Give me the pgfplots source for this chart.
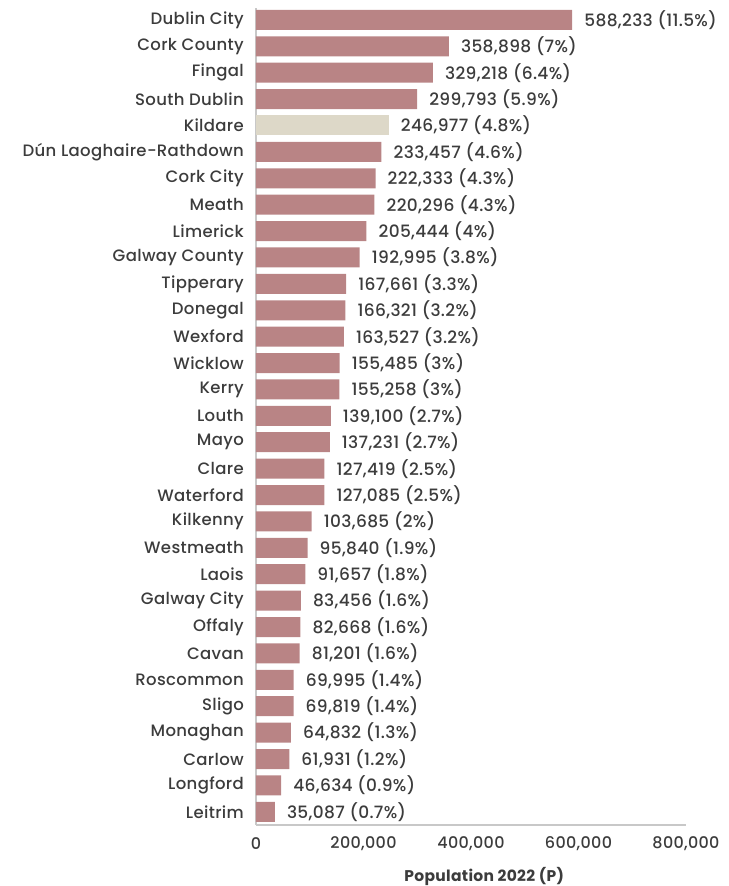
\documentclass[border=0pt]{standalone}
\usepackage{fontspec}
\setmainfont{Poppins}[UprightFont=*-Medium, BoldFont=*-Bold, LetterSpace=2]
\usepackage{pgfplots}
\usepackage{pgfplotstable}
\pgfplotsset{compat=1.18}
\definecolor{barred}{HTML}{B98485}
\definecolor{barbeige}{HTML}{DDD8C8}
\definecolor{txt}{HTML}{3C3C3C}
\definecolor{axgray}{HTML}{C8C8C8}

\pgfplotstableread[col sep=semicolon,row sep=\\]{
idx;val;lab\\
0;588233;588,233 (11.5\%)\\
1;358898;358,898 (7\%)\\
2;329218;329,218 (6.4\%)\\
3;299793;299,793 (5.9\%)\\
5;233457;233,457 (4.6\%)\\
6;222333;222,333 (4.3\%)\\
7;220296;220,296 (4.3\%)\\
8;205444;205,444 (4\%)\\
9;192995;192,995 (3.8\%)\\
10;167661;167,661 (3.3\%)\\
11;166321;166,321 (3.2\%)\\
12;163527;163,527 (3.2\%)\\
13;155485;155,485 (3\%)\\
14;155258;155,258 (3\%)\\
15;139100;139,100 (2.7\%)\\
16;137231;137,231 (2.7\%)\\
17;127419;127,419 (2.5\%)\\
18;127085;127,085 (2.5\%)\\
19;103685;103,685 (2\%)\\
20;95840;95,840 (1.9\%)\\
21;91657;91,657 (1.8\%)\\
22;83456;83,456 (1.6\%)\\
23;82668;82,668 (1.6\%)\\
24;81201;81,201 (1.6\%)\\
25;69995;69,995 (1.4\%)\\
26;69819;69,819 (1.4\%)\\
27;64832;64,832 (1.3\%)\\
28;61931;61,931 (1.2\%)\\
29;46634;46,634 (0.9\%)\\
30;35087;35,087 (0.7\%)\\
}\maindata

\pgfplotstableread[col sep=semicolon,row sep=\\]{
idx;val;lab\\
4;246977;246,977 (4.8\%)\\
}\kildata

\begin{document}
\begin{tikzpicture}
\begin{axis}[
  name=ax,
  scale only axis,
  width=430pt, height=817pt,
  xbar, bar width=20pt, bar shift=0pt,
  xmin=0, xmax=800000,
  ymin=-0.45, ymax=30.5,
  y dir=reverse,
  axis x line*=bottom, axis y line*=left,
  axis line style={axgray, line width=1.2pt},
  major tick length=0pt,
  ytick={0,...,30},
  yticklabels={Dublin City, Cork County, Fingal, South Dublin, Kildare, Dún Laoghaire-Rathdown, Cork City, Meath, Limerick, Galway County, Tipperary, Donegal, Wexford, Wicklow, Kerry, Louth, Mayo, Clare, Waterford, Kilkenny, Westmeath, Laois, Galway City, Offaly, Cavan, Roscommon, Sligo, Monaghan, Carlow, Longford, Leitrim},
  yticklabel style={font=\fontsize{16.5}{19}\selectfont, text=txt, anchor=east, inner sep=0pt, xshift=-12pt},
  xtick={0,200000,400000,600000,800000},
  xticklabels={0,{200,000},{400,000},{600,000},{800,000}},
  scaled x ticks=false,
  xticklabel style={font=\fontsize{16}{19}\selectfont, text=txt, inner sep=0pt, anchor=center, yshift=-19pt},
  xlabel={\textbf{Population 2022 (P)}},
  xlabel style={font=\fontsize{15.5}{19}\selectfont, text=txt, at={(axis description cs:0.531,0)}, anchor=center, yshift=-51pt},
  point meta=explicit symbolic,
  nodes near coords={\pgfplotspointmeta},
  every node near coord/.append style={font=\fontsize{17}{20}\selectfont, text=txt, anchor=west, inner sep=0pt, xshift=12pt},
  clip=false,
]
\addplot[fill=barred, draw=none] table[x=val, y=idx, meta=lab] {\maindata};
\addplot[fill=barbeige, draw=none] table[x=val, y=idx, meta=lab] {\kildata};
\end{axis}
\pgfresetboundingbox
\path[use as bounding box] ([xshift=-256pt,yshift=8pt]ax.north west) rectangle ([xshift=43pt,yshift=-61pt]ax.south east);
\end{tikzpicture}
\end{document}
